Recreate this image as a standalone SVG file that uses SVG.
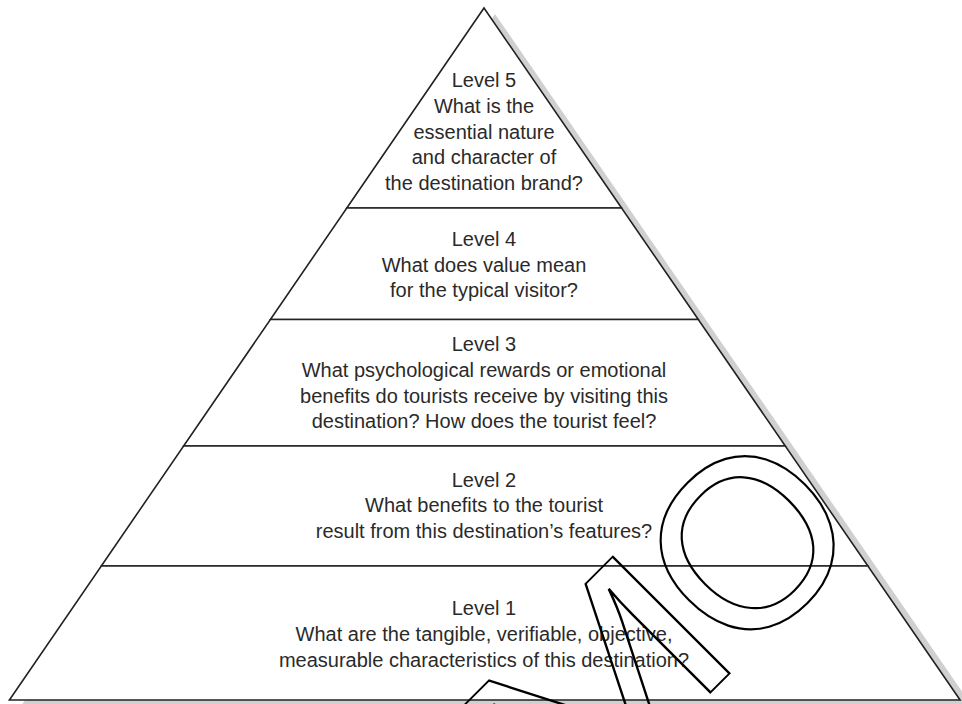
<svg xmlns="http://www.w3.org/2000/svg" width="962" height="704" viewBox="0 0 962 704">
<style>
.band{fill:#fff;stroke:#222;stroke-width:1.6;stroke-linejoin:miter}
.lbl{font-family:"Liberation Sans",Arial,sans-serif;font-size:20px;fill:#2a2a2a;text-anchor:middle}
.wm{font-family:"Liberation Sans",Arial,sans-serif;font-size:240px;fill:none;stroke:#000;stroke-width:2.2}
</style>
<rect width="962" height="704" fill="#fff"/>
<polygon id="shadow" points="495,14 972,706 21,706" fill="#d0d0d0"/>
<g id="level5">
<polygon class="band" points="484,8 621.6,208 346.8,208"/>
<text class="lbl" x="484" y="87.3">Level 5</text>
<text class="lbl" x="484" y="113.2">What is the</text>
<text class="lbl" x="484" y="138.8">essential nature</text>
<text class="lbl" x="484" y="164.4">and character of</text>
<text class="lbl" x="484" y="190">the destination brand?</text>
</g>
<g id="level4">
<polygon class="band" points="346.8,208 621.6,208 698.3,319.5 270.4,319.5"/>
<text class="lbl" x="484" y="246">Level 4</text>
<text class="lbl" x="484" y="271.6">What does value mean</text>
<text class="lbl" x="484" y="297">for the typical visitor?</text>
</g>
<g id="level3">
<polygon class="band" points="270.4,319.5 698.3,319.5 785.3,446 183.6,446"/>
<text class="lbl" x="484" y="351">Level 3</text>
<text class="lbl" x="484" y="376.7">What psychological rewards or emotional</text>
<text class="lbl" x="484" y="402.5">benefits do tourists receive by visiting this</text>
<text class="lbl" x="484" y="428">destination? How does the tourist feel?</text>
</g>
<g id="level2">
<polygon class="band" points="183.6,446 785.3,446 867.9,566 101.3,566"/>
<text class="lbl" x="484" y="486.7">Level 2</text>
<text class="lbl" x="484" y="512">What benefits to the tourist</text>
<text class="lbl" x="484" y="537.5">result from this destination’s features?</text>
</g>
<g id="level1">
<polygon class="band" points="101.3,566 867.9,566 960.1,700 9.4,700"/>
<text class="lbl" x="484" y="615">Level 1</text>
<text class="lbl" x="484" y="640.7">What are the tangible, verifiable, objective,</text>
<text class="lbl" x="484" y="666.5">measurable characteristics of this destination?</text>
</g>
<g id="connectors"></g>
<g id="watermark" transform="rotate(-45)">
<text class="wm" x="51.5" y="995">O</text>
<text class="wm" transform="translate(-201,992) scale(1.335,1)" vector-effect="non-scaling-stroke">M</text>
</g>
</svg>
